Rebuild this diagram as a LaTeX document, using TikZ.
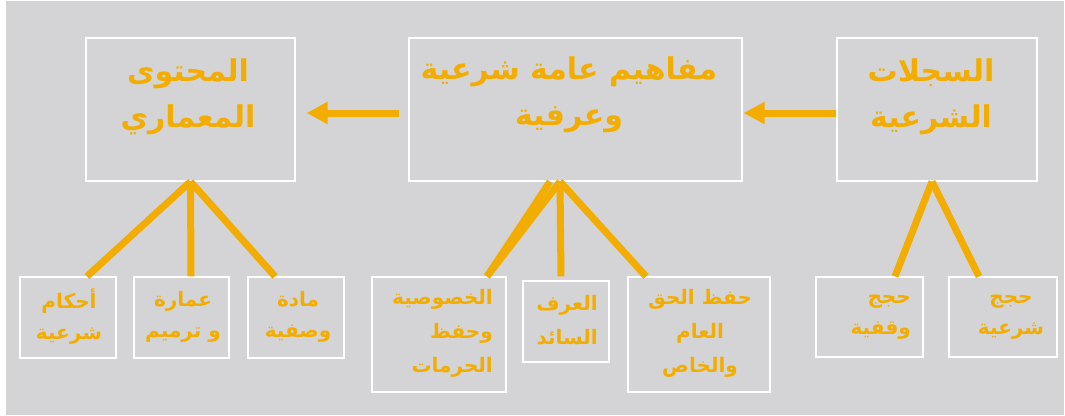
\documentclass[tikz,border=0pt]{standalone}
\usepackage{fontspec}
\usetikzlibrary{arrows.meta}
\TeXXeTstate=1
\newfontfamily\arabicfont[Script=Arabic]{DejaVu Sans}
\definecolor{bgray}{HTML}{D4D4D6}
\definecolor{org}{HTML}{F2AD00}
\newcommand{\arl}[1]{\beginR #1\endR}
\begin{document}
\begin{tikzpicture}[x=1pt,y=-1pt,
  box/.style={draw=white, line width=1.2pt, inner sep=0pt},
  big/.style={text=org, font=\arabicfont\bfseries\fontsize{30}{46}\selectfont, align=center, inner sep=0pt},
  small/.style={text=org, font=\arabicfont\bfseries\fontsize{20}{31}\selectfont, align=center, inner sep=0pt},
  smallr/.style={small, align=right, anchor=east},
  link/.style={draw=org, line width=7pt},
  arr/.style={draw=org, line width=7pt, -{Triangle[length=21pt,width=21pt]}}]
\useasboundingbox (0,0) rectangle (1065,415);
\fill[white] (0,0) rectangle (1065,415);
\fill[bgray] (6,1) rectangle (1064,415);
% main boxes
\node[box, minimum width=209pt, minimum height=143pt] (A) at (190.5,109.5) {};
\node[box, minimum width=333pt, minimum height=143pt] (B) at (575.5,109.5) {};
\node[box, minimum width=200pt, minimum height=143pt] (C) at (937,109.5) {};
% child boxes
\node[box, minimum width=96pt, minimum height=81pt] (a1) at (68,317.5) {};
\node[box, minimum width=95pt, minimum height=81pt] (a2) at (181.5,317.5) {};
\node[box, minimum width=96pt, minimum height=81pt] (a3) at (296,317.5) {};
\node[box, minimum width=134pt, minimum height=115pt] (b1) at (439,334.5) {};
\node[box, minimum width=86pt, minimum height=81pt] (b2) at (566,321.5) {};
\node[box, minimum width=142pt, minimum height=115pt] (b3) at (699,334.5) {};
\node[box, minimum width=107pt, minimum height=80pt] (c1) at (869.5,317) {};
\node[box, minimum width=108pt, minimum height=80pt] (c2) at (1003,317) {};
% texts
\node[big] (tA) at (188,97) {\arl{المحتوى}\\\arl{المعماري}};
\node[big] (tB) at (569,95) {\arl{مفاهيم عامة شرعية}\\\arl{وعرفية}};
\node[big] (tC) at (931,97) {\arl{السجلات}\\\arl{الشرعية}};
\node[small] (ta1) at (69,317) {\arl{أحكام}\\\arl{شرعية}};
\node[small] (ta2) at (183,317) {\arl{عمارة}\\\arl{و ترميم}};
\node[small] (ta3) at (298,317) {\arl{مادة}\\\arl{وصفية}};
\node[smallr, font=\arabicfont\bfseries\fontsize{20}{34}\selectfont] (tb1) at (493,333) {\arl{الخصوصية}\\\arl{وحفظ}\\\arl{الحرمات}};
\node[smallr, font=\arabicfont\bfseries\fontsize{20}{34}\selectfont] (tb2) at (598,320) {\arl{العرف}\\\arl{السائد}};
\node[small, font=\arabicfont\bfseries\fontsize{20}{34}\selectfont] (tb3) at (700,333) {\arl{حفظ الحق}\\\arl{العام}\\\arl{والخاص}};
\node[smallr] (tc1) at (911,317) {\arl{حجج}\\\arl{وقفية}};
\node[small] (tc2) at (1011,317) {\arl{حجج}\\\arl{شرعية}};
% arrows
\draw[arr] ([xshift=-9pt,yshift=-3.5pt]B.west) -- ([xshift=11pt,yshift=-3.5pt]A.east);
\draw[arr] ([yshift=-3.5pt]C.west) -- ([xshift=1pt,yshift=-3.5pt]B.east);
% links
\draw[link] (A.south) -- ([xshift=19pt]a1.north);
\draw[link] (A.south) -- ([xshift=9.5pt]a2.north);
\draw[link] (A.south) -- ([xshift=-21pt]a3.north);
\draw[link] ([xshift=-25.5pt]B.south) -- ([xshift=48pt]b1.north);
\draw[link] ([xshift=-15.5pt]B.south) -- ([xshift=48pt]b1.north);
\draw[link] ([xshift=-15.5pt]B.south) -- ([xshift=-5pt,yshift=4pt]b2.north);
\draw[link] ([xshift=-15.5pt]B.south) -- ([xshift=-53pt]b3.north);
\draw[link] ([xshift=-5pt]C.south) -- ([xshift=25.5pt]c1.north);
\draw[link] ([xshift=-5pt]C.south) -- ([xshift=-24pt]c2.north);
\end{tikzpicture}
\end{document}
